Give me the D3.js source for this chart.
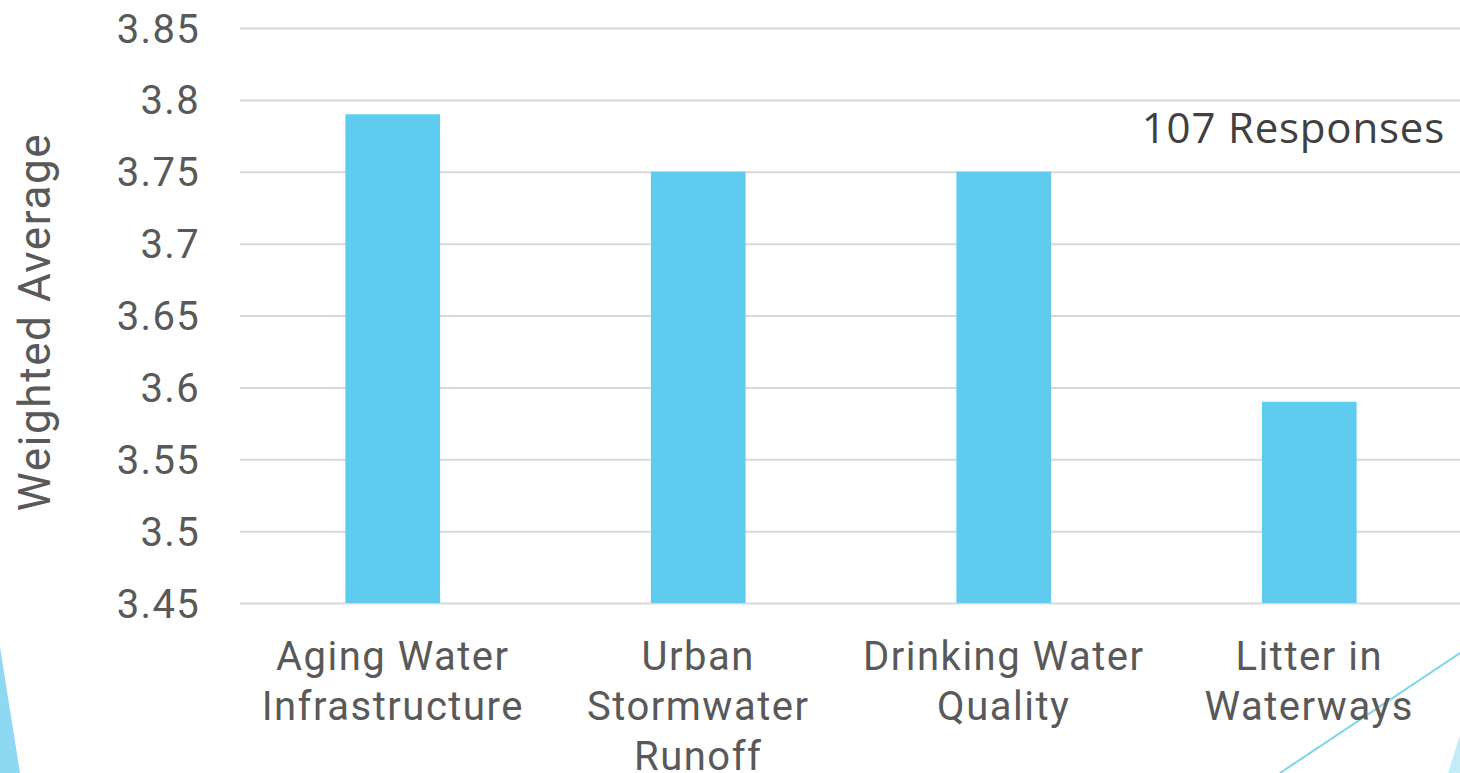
<!DOCTYPE html>
<html>
<head>
<meta charset="utf-8">
<script src="https://cdn.jsdelivr.net/npm/d3@7"></script>
<style>
  html, body { margin: 0; padding: 0; background: #fff; }
  svg { display: block; }
</style>
</head>
<body>
<svg id="chart" width="1460" height="773"></svg>
<script>
const categories = [
  ["Aging Water", "Infrastructure"],
  ["Urban", "Stormwater", "Runoff"],
  ["Drinking Water", "Quality"],
  ["Litter in", "Waterways"]
];
const values = [3.79, 3.75, 3.75, 3.59];
const tickValues = [3.45, 3.5, 3.55, 3.6, 3.65, 3.7, 3.75, 3.8, 3.85];
const yTitle = "Weighted Average";
const note = "107 Responses";

const W = 1460, H = 773;
const margin = { left: 240, right: -2, top: 28, bottom: 170 };
const svg = d3.select("#chart");

// decorative shapes
svg.append("polygon").attr("points", "0,647 20,773 0,773").attr("fill", "#8dd9f2");
svg.append("polygon").attr("points", "1448,773 1460,735 1460,773").attr("fill", "#c4ecf8");
svg.append("line").attr("x1", 1280).attr("y1", 773).attr("x2", 1460).attr("y2", 653)
  .attr("stroke", "#7fd3f0").attr("stroke-width", 2);

const x = d3.scaleBand()
  .domain(d3.range(categories.length))
  .range([margin.left, W - margin.right])
  .paddingInner(0.69).paddingOuter(0.345);

const y = d3.scaleLinear()
  .domain([3.45, 3.85])
  .range([H - margin.bottom, margin.top]);

// gridlines
const yAxis = d3.axisLeft(y).tickValues(tickValues)
  .tickSize(-(W - margin.right - margin.left))
  .tickFormat(d => d3.format("")(+d.toFixed(2)));
const gy = svg.append("g").attr("transform", `translate(${margin.left},0)`).call(yAxis);
gy.select(".domain").remove();
gy.selectAll(".tick line").attr("stroke", "#d9d9d9").attr("stroke-width", 2);
gy.selectAll(".tick text")
  .attr("x", -40)
  .attr("fill", "#595959")
  .style("font-family", "Roboto, sans-serif")
  .style("font-size", "40px")
  .style("letter-spacing", "1.3px")
  .attr("dy", "0.35em");

// bars
svg.append("g").selectAll("rect").data(values).join("rect")
  .attr("x", (d, i) => x(i))
  .attr("width", x.bandwidth())
  .attr("y", d => y(d))
  .attr("height", d => y(3.45) - y(d))
  .attr("fill", "#5fcbee");

// x labels
const xAxis = d3.axisBottom(x).tickSize(0).tickFormat("");
const gx = svg.append("g").attr("transform", `translate(0,${H - margin.bottom})`).call(xAxis);
gx.select(".domain").remove();
gx.selectAll(".tick").each(function(d) {
  const t = d3.select(this).append("text")
    .attr("text-anchor", "middle")
    .attr("fill", "#595959")
    .style("font-family", "Roboto, sans-serif")
    .style("font-size", "40px")
    .style("letter-spacing", "1.5px");
  categories[d].forEach((line, j) => {
    t.append("tspan").attr("x", 0).attr("y", 67 + j * 50).text(line);
  });
});

// y title
svg.append("text")
  .attr("transform", `translate(50,322) rotate(-90)`)
  .attr("text-anchor", "middle")
  .attr("fill", "#595959")
  .style("font-family", "Roboto, sans-serif")
  .style("font-weight", 400)
  .style("font-size", "44px")
  .style("letter-spacing", "1.6px")
  .text(yTitle);

// note
svg.append("text")
  .attr("x", 1445).attr("y", 143)
  .attr("text-anchor", "end")
  .attr("fill", "#404040")
  .style("font-family", "'Open Sans', sans-serif")
  .style("font-size", "42px")
  .style("letter-spacing", "0.8px")
  .text(note);
</script>
</body>
</html>
